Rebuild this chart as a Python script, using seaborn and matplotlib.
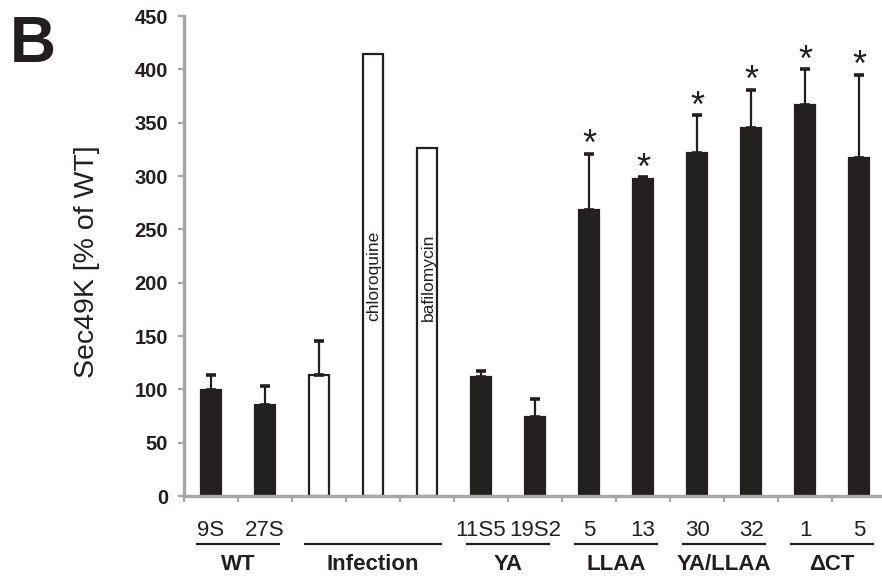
import numpy as np
import pandas as pd
import matplotlib
matplotlib.use("Agg")
import matplotlib.pyplot as plt
import matplotlib.transforms as mtransforms
import seaborn as sns

# ---- data ----
bar_ids = ["WT_9S", "WT_27S", "Inf", "Inf_chloroquine", "Inf_bafilomycin",
           "YA_11S5", "YA_19S2", "LLAA_5", "LLAA_13", "YALLAA_30", "YALLAA_32",
           "dCT_1", "dCT_5"]
tick_labels = ["9S", "27S", "", "", "", "11S5", "19S2", "5", "13", "30", "32", "1", "5"]
values = [99, 85, 113, 414, 326, 112, 74, 268, 297, 322, 345, 367, 317]
errors = [14, 18, 32, 0, 0, 5, 17, 53, 2, 35, 36, 33, 78]
filled = [True, True, False, False, False, True, True, True, True, True, True, True, True]
significant = [False] * 7 + [True] * 6
inbar_text = {3: "chloroquine", 4: "bafilomycin"}
groups = ["WT", "Infection", "YA", "LLAA", "YA/LLAA", "\u0394CT"]
group_members = [[0, 1], [2, 3, 4], [5, 6], [7, 8], [9, 10], [11, 12]]

BLACK = "#231f20"
GRAY = "#a6a6a6"

sns.set_theme(style="white")
plt.rcParams["font.family"] = ["Liberation Sans", "DejaVu Sans"]

df = pd.DataFrame({"id": bar_ids, "value": values})
palette = {b: (BLACK if f else "white") for b, f in zip(bar_ids, filled)}

fig = plt.figure(figsize=(8.82, 5.8), dpi=100)
ax = fig.add_axes([184 / 882, 84 / 580, 702 / 882, 480 / 580])

sns.barplot(data=df, x="id", y="value", hue="id", palette=palette, order=bar_ids,
            hue_order=bar_ids, legend=False, width=0.38, edgecolor=BLACK,
            linewidth=1.6, ax=ax, errorbar=None)

xs = np.arange(len(bar_ids))
vals = np.array(values)
errs = np.array(errors)
mask = errs > 0
ax.errorbar(xs[mask], vals[mask], yerr=[np.zeros(mask.sum()), errs[mask]],
            fmt="none", ecolor=BLACK, elinewidth=1.6, capsize=3.4, capthick=2.6, zorder=3)

for i, sig in enumerate(significant):
    if sig:
        ax.annotate("*", (xs[i], values[i] + errors[i]), xytext=(0, -7),
                    textcoords="offset points", ha="center", va="bottom",
                    fontsize=26, color=BLACK)

for i, t in inbar_text.items():
    ax.text(xs[i] + 0.02, 164, t, rotation=90, ha="center", va="bottom",
            fontsize=12.5, color=BLACK)

ax.set_ylim(0, 450)
ax.set_xlim(-0.5, 12.5)
ax.set_yticks(np.arange(0, 451, 50))
ax.tick_params(axis="y", which="major", direction="out", length=4.5, width=1.6,
               color=GRAY, pad=7, labelsize=14.5, left=True)
for lab in ax.get_yticklabels():
    lab.set_fontweight("bold")
    lab.set_color(BLACK)

ax.set_xticks(np.arange(-0.5, 12.6, 1.0))
ax.set_xticklabels([""] * len(np.arange(-0.5, 12.6, 1.0)))
ax.tick_params(axis="x", which="major", direction="out", length=4, width=1.6,
               color=GRAY, bottom=True)
ax.set_xticks(xs, minor=True)
ax.set_xticklabels(tick_labels, minor=True)
ax.tick_params(axis="x", which="minor", length=0, pad=17, labelsize=16, labelcolor=BLACK)
ax.set_xlabel("")

for s in ["top", "right"]:
    ax.spines[s].set_visible(False)
for s in ["left", "bottom"]:
    ax.spines[s].set_color(GRAY)
    ax.spines[s].set_linewidth(2.4)

ax.set_ylabel("Sec49K [% of WT]", fontsize=20.5, color=BLACK)
ax.yaxis.set_label_coords((87 - 184) / 702, (496 - 262) / 480)
ax.yaxis.label.set_va("center")

trans = mtransforms.blended_transform_factory(ax.transData, ax.transAxes)
line_y = (496 - 544) / 480
lab_y = (496 - 565) / 480
for g, members in zip(groups, group_members):
    x0 = members[0] - 0.27
    x1 = members[-1] + 0.27
    ax.plot([x0, x1], [line_y, line_y], color=BLACK, lw=1.6, transform=trans,
            clip_on=False, solid_capstyle="butt")
    ax.text((members[0] + members[-1]) / 2, lab_y, g, transform=trans, ha="center",
            va="center", fontsize=16, fontweight="bold", color=BLACK)

fig.text(10 / 882, 1 - 62 / 580, "B", fontsize=46, fontweight="bold",
         ha="left", va="baseline", color=BLACK)

fig.savefig("out.png", dpi=100)
